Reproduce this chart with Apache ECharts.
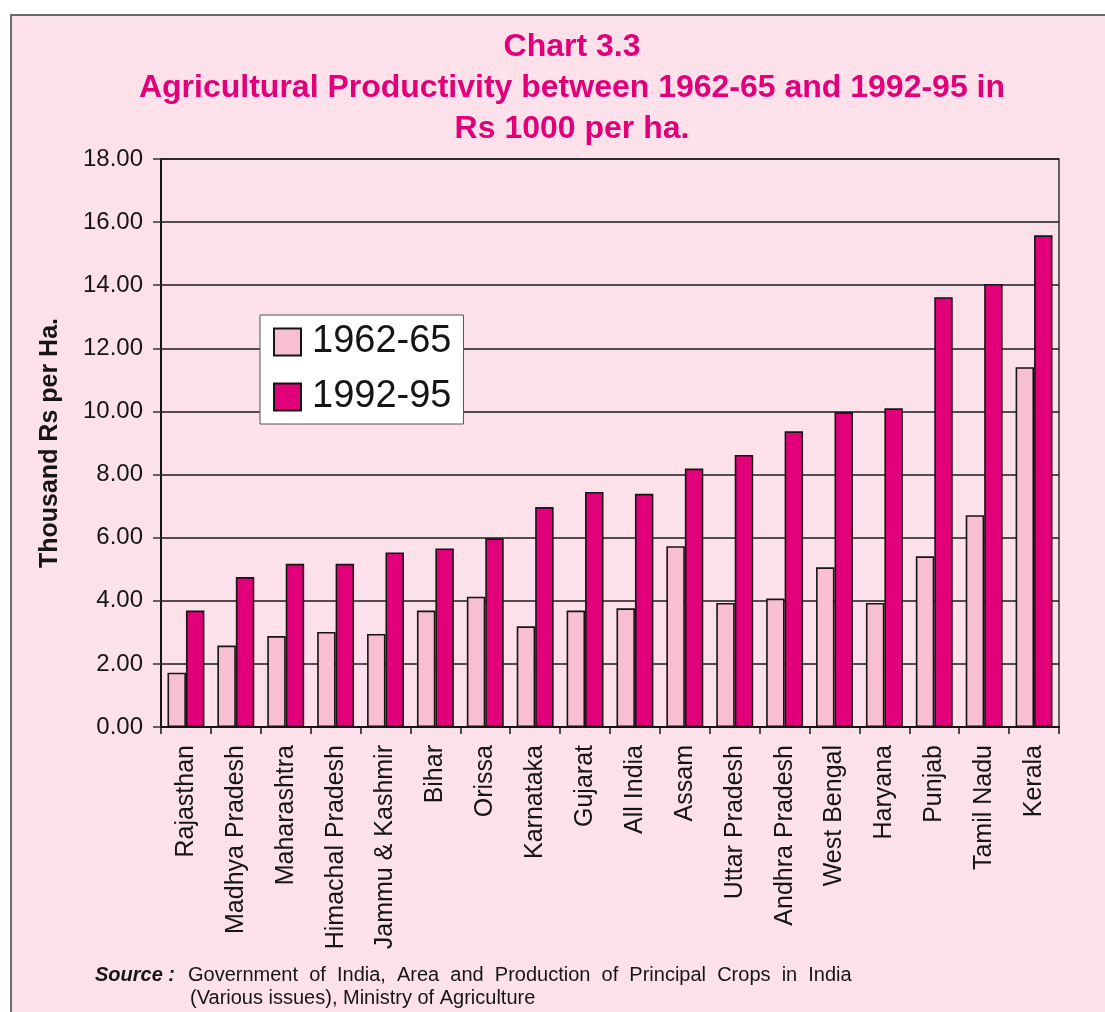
<!DOCTYPE html>
<html>
<head>
<meta charset="utf-8">
<title>Agricultural Productivity between 1962-65 and 1992-95</title>
<script src="https://cdn.jsdelivr.net/npm/echarts@6/dist/echarts.min.js"></script>
<style>
  html, body { margin: 0; padding: 0; background: #ffffff; }
  #chart { width: 1105px; height: 1012px; }
</style>
</head>
<body>
<div id="chart"></div>
<script>
// States, ordered by 1992-95 productivity (All India in the middle)
const states = [
  'Rajasthan', 'Madhya Pradesh', 'Maharashtra', 'Himachal Pradesh',
  'Jammu & Kashmir', 'Bihar', 'Orissa', 'Karnataka', 'Gujarat',
  'All India', 'Assam', 'Uttar Pradesh', 'Andhra Pradesh', 'West Bengal',
  'Haryana', 'Punjab', 'Tamil Nadu', 'Kerala'
];

// Thousand Rs per hectare
const period1Name = '1962-65';
const period1 = [1.72, 2.58, 2.88, 3.01, 2.95, 3.69, 4.13, 3.19, 3.69,
                 3.76, 5.73, 3.93, 4.07, 5.06, 3.93, 5.41, 6.71, 11.40];

const period2Name = '1992-95';
const period2 = [3.69, 4.75, 5.17, 5.17, 5.53, 5.66, 5.98, 6.97, 7.45,
                 7.39, 8.19, 8.62, 9.37, 9.98, 10.10, 13.62, 14.04, 15.58];

const yTicks = { min: 0, max: 18, step: 2 };

const FONT = '"Liberation Sans", Arial, Helvetica, sans-serif';
const PINK_BG = '#fce1ea';
const LIGHT = '#f8bfd3';
const DARK = '#e2007a';
const INK = '#151515';

const chart = echarts.init(document.getElementById('chart'), null, { renderer: 'canvas' });

chart.setOption({
  backgroundColor: '#ffffff',
  animation: false,
  textStyle: { fontFamily: FONT },
  graphic: [
    {
      type: 'rect',
      z: -100,
      shape: { x: 11, y: 15, width: 1100, height: 1010 },
      style: { fill: PINK_BG, stroke: '#6b6b6b', lineWidth: 2 }
    },
    {
      type: 'text',
      x: 95, y: 975,
      style: {
        text: 'Source :',
        font: 'italic bold 20px ' + FONT,
        fill: INK,
        verticalAlign: 'middle'
      }
    },
    {
      type: 'text',
      x: 188, y: 975,
      style: {
        text: 'Government  of  India,  Area  and  Production  of  Principal  Crops  in  India',
        font: '20px ' + FONT,
        fill: INK,
        verticalAlign: 'middle'
      }
    },
    {
      type: 'text',
      x: 190, y: 998,
      style: {
        text: '(Various issues), Ministry of Agriculture',
        font: '20px ' + FONT,
        fill: INK,
        verticalAlign: 'middle'
      }
    }
  ],
  title: {
    text: 'Chart 3.3\nAgricultural Productivity between 1962-65 and 1992-95 in\nRs 1000 per ha.',
    left: 567,
    top: 22,
    textAlign: 'center',
    textStyle: {
      fontFamily: FONT,
      fontSize: 32,
      fontWeight: 'bold',
      color: DARK,
      lineHeight: 41
    }
  },
  legend: {
    orient: 'vertical',
    left: 260,
    top: 315,
    backgroundColor: '#ffffff',
    borderColor: '#555555',
    borderWidth: 1,
    padding: [8, 12, 8, 13],
    itemWidth: 27,
    itemHeight: 27,
    itemGap: 17,
    icon: 'rect',
    formatter: name => '{gap|}{t|' + name + '}',
    textStyle: {
      fontFamily: FONT, fontSize: 38, color: INK,
      rich: {
        gap: { width: 6 },
        t: { fontFamily: FONT, fontSize: 38, color: INK }
      }
    },
    data: [period1Name, period2Name]
  },
  grid: {
    left: 161,
    right: 46,
    top: 159,
    bottom: 285,
    show: true,
    borderColor: '#333333',
    borderWidth: 1.5,
    backgroundColor: 'transparent'
  },
  xAxis: {
    type: 'category',
    data: states,
    axisLine: { lineStyle: { color: INK, width: 2 } },
    axisTick: { show: true, interval: 0, length: 7, lineStyle: { color: INK, width: 1.5 } },
    axisLabel: {
      interval: 0,
      rotate: 90,
      margin: 18,
      fontFamily: FONT,
      fontSize: 25,
      color: INK
    }
  },
  yAxis: {
    type: 'value',
    min: yTicks.min,
    max: yTicks.max,
    interval: yTicks.step,
    name: 'Thousand Rs per Ha.',
    nameLocation: 'middle',
    nameGap: 98,
    nameTextStyle: { fontFamily: FONT, fontSize: 25, fontWeight: 'bold', color: INK },
    axisLine: { show: true, lineStyle: { color: INK, width: 2 } },
    axisTick: { show: true, length: 8, lineStyle: { color: '#333333', width: 1.5 } },
    axisLabel: {
      margin: 18,
      fontFamily: FONT,
      fontSize: 24,
      color: INK,
      formatter: v => v.toFixed(2)
    },
    splitLine: { show: true, lineStyle: { color: '#1a1a1a', width: 1.6 } }
  },
  series: [
    {
      name: period1Name,
      type: 'bar',
      data: period1,
      barGap: '0%',
      barCategoryGap: '26%',
      itemStyle: { color: LIGHT, borderColor: INK, borderWidth: 1.6 }
    },
    {
      name: period2Name,
      type: 'bar',
      data: period2,
      barGap: '0%',
      barCategoryGap: '26%',
      itemStyle: { color: DARK, borderColor: INK, borderWidth: 1.6 }
    }
  ]
});
</script>
</body>
</html>
